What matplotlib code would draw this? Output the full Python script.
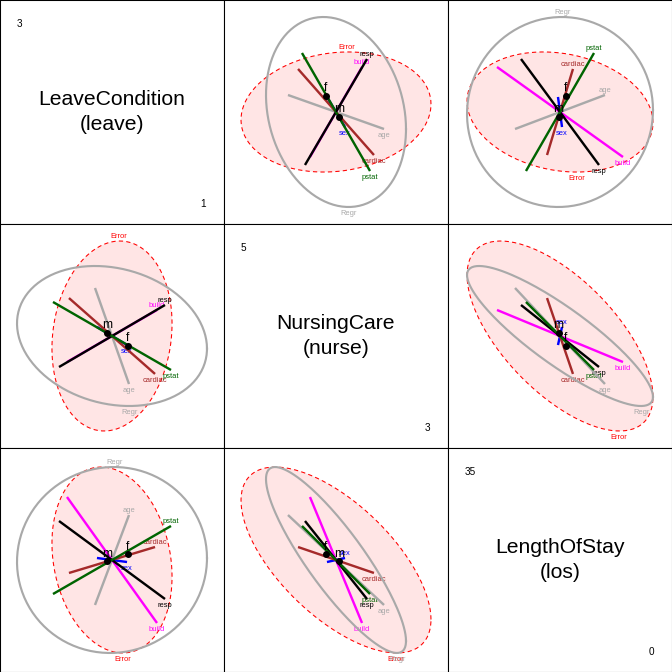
import numpy as np
import matplotlib
matplotlib.use("Agg")
import matplotlib.pyplot as plt

plt.rcParams['font.family'] = ['Liberation Sans', 'DejaVu Sans']

# ---- data -------------------------------------------------------------
var_names = ["LeaveCondition\n(leave)", "NursingCare\n(nurse)", "LengthOfStay\n(los)"]
var_lo_label = ["1", "3", "0"]
var_hi_label = ["3", "5", "35"]
var_limits = [(0.92, 3.08), (2.92, 5.08), (-1.4, 36.4)]
grand_mean = [2.0, 4.0, 17.5]

# Error ellipse (scaled) : sd per variable and correlations
error_sd = [0.579, 0.916, 15.69]
error_corr = [[1.00, 0.13, -0.18],
              [0.13, 1.00, -0.64],
              [-0.18, -0.64, 1.00]]
# Overall regression hypothesis ellipse
regr_sd = [0.916, 0.675, 15.69]
regr_corr = [[1.00, -0.18, 0.02],
             [-0.18, 1.00, -0.87],
             [0.02, -0.87, 1.00]]

# 1-df hypothesis terms (degenerate ellipses = lines), half-vectors
term_names = ["sex", "age", "cardiac", "build", "resp", "pstat"]
term_colors = ["blue", "darkgray", "brown", "magenta", "black", "darkgreen"]
term_leave = [0.145, -0.164, -0.415, 0.434, 0.511, -0.569]
term_nurse = [-0.087, 0.463, 0.366, 0.251, 0.299, 0.328]
term_los = [-0.34, -7.59, -2.19, -10.63, -6.58, -5.74]

# group means for sex
group_names = ["m", "f"]
group_leave = [1.952, 2.154]
group_nurse = [4.029, 3.904]
group_los = [17.25, 18.43]

# ---- helpers ----------------------------------------------------------
nv = 3
term_vecs = np.array([term_leave, term_nurse, term_los]).T
group_pts = np.array([group_leave, group_nurse, group_los]).T
center = np.array(grand_mean)


def cov(sd, corr):
    sd = np.array(sd)
    return np.outer(sd, sd) * np.array(corr)


E = cov(error_sd, error_corr)
R = cov(regr_sd, regr_corr)
t = np.linspace(0, 2 * np.pi, 200)
circ = np.vstack([np.cos(t), np.sin(t)])


def ellipse_pts(S, i, j):
    sub = S[np.ix_([j, i], [j, i])]
    L = np.linalg.cholesky(sub)
    pts = L @ circ
    return center[j] + pts[0], center[i] + pts[1], sub[0, 1]


def label_at(ax, xs, ys, r, text, color, size=5.6, off=2.0):
    if r > 0:
        k = np.argmax(ys)
        ax.annotate(text, (xs[k], ys[k]), xytext=(0, off), textcoords="offset points",
                    ha="center", va="baseline", color=color, fontsize=size,
                    annotation_clip=False)
    else:
        k = np.argmin(ys)
        ax.annotate(text, (xs[k], ys[k]), xytext=(0, -off), textcoords="offset points",
                    ha="center", va="top", color=color, fontsize=size,
                    annotation_clip=False)


fig = plt.figure(figsize=(7, 7), dpi=96)
cell = 1.0 / nv
for i in range(nv):
    for j in range(nv):
        ax = fig.add_axes([j * cell, 1 - (i + 1) * cell, cell, cell])
        ax.set_xticks([])
        ax.set_yticks([])
        for s in ax.spines.values():
            s.set_linewidth(0.8)
            s.set_color("black")
        if i == j:
            ax.set_xlim(0, 1)
            ax.set_ylim(0, 1)
            ax.text(0.5, 0.5, var_names[i], ha="center", va="center",
                    fontsize=15.8, linespacing=1.38)
            ax.text(17 / 224, 1 - 19 / 224, var_hi_label[i], ha="left", va="top",
                    fontsize=7.5)
            ax.text(206 / 224, 17 / 224, var_lo_label[i], ha="right", va="baseline",
                    fontsize=7.5)
            continue
        ax.set_xlim(*var_limits[j])
        ax.set_ylim(*var_limits[i])
        # Error ellipse
        ex, ey, er = ellipse_pts(E, i, j)
        ax.fill(ex, ey, color=(1.0, 0.0, 0.0, 0.1), lw=0, zorder=1)
        ax.plot(ex, ey, color="red", lw=0.8, ls=(0, (4, 3)), zorder=2)
        label_at(ax, ex, ey, er, "Error", "red")
        # term lines
        for k in range(len(term_names)):
            h = term_vecs[k]
            xs = np.array([center[j] - h[j], center[j] + h[j]])
            ys = np.array([center[i] - h[i], center[i] + h[i]])
            ax.plot(xs, ys, color=term_colors[k], lw=1.8, zorder=3 + k,
                    solid_capstyle="butt")
            label_at(ax, xs, ys, h[i] * h[j], term_names[k], term_colors[k])
        # Regr ellipse
        rx, ry, rr = ellipse_pts(R, i, j)
        ax.plot(rx, ry, color="darkgray", lw=1.6, zorder=10)
        label_at(ax, rx, ry, rr, "Regr", "darkgray")
        # group means
        ax.plot(group_pts[:, j], group_pts[:, i], "o", color="black", ms=4.2, zorder=11)
        for g in range(len(group_names)):
            ax.annotate(group_names[g], (group_pts[g, j], group_pts[g, i]),
                        xytext=(0, 3.5), textcoords="offset points", ha="center",
                        va="baseline", fontsize=9, color="black", zorder=12)

fig.savefig("out.png", dpi=96)
